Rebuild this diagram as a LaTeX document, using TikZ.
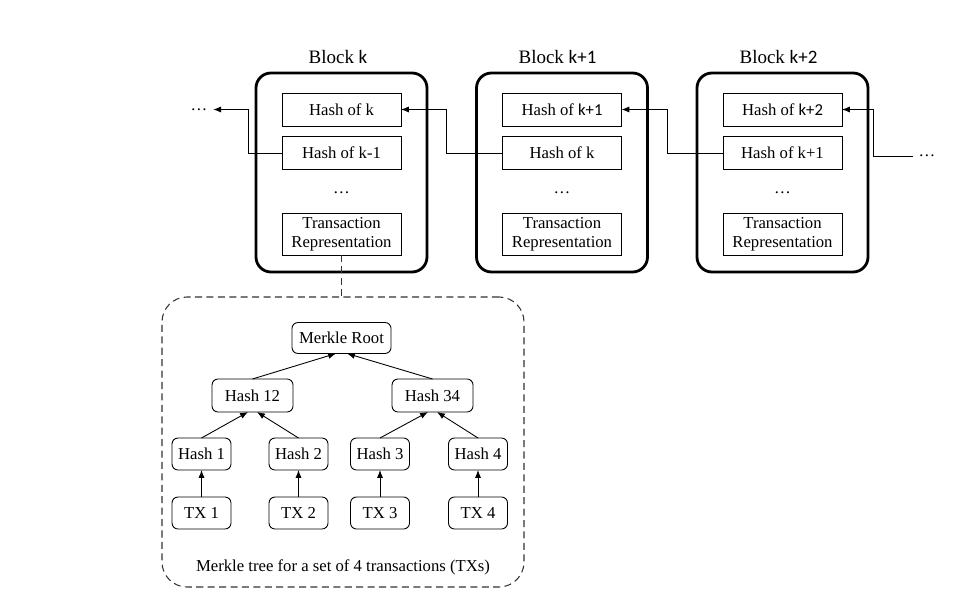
\documentclass[tikz,border=0pt]{standalone}
\usepackage{fontspec}
\setmainfont{Liberation Serif}
\newfontfamily\calfont{Carlito}
\usetikzlibrary{arrows.meta}

\begin{document}
\begin{tikzpicture}[every node/.style={font=\fontsize{9.5}{11}\selectfont, outer sep=0pt},
  block/.style={draw, line width=1.6pt, rounded corners=0.3cm, minimum width=3.42cm, minimum height=3.98cm},
  title/.style={font=\fontsize{10.8}{12}\selectfont},
  field/.style={draw, line width=0.5pt, minimum width=2.38cm, minimum height=0.66cm, inner sep=1pt},
  txfield/.style={field, minimum height=0.84cm, align=center},
  mnode/.style={draw, line width=0.5pt, rounded corners=0.12cm, minimum width=1.18cm, minimum height=0.64cm, inner sep=1pt},
  link/.style={-{Latex[length=4.5pt,width=3.5pt]}, line width=0.5pt},
  frameline/.style={draw=black!80, dash pattern=on 4pt off 2.5pt, line width=0.6pt}]
\useasboundingbox (0,0) rectangle (19.14,12.12);

\node[block] (b0) at (6.83,8.67) {};
\node[block] (b1) at (11.24,8.67) {};
\node[block] (b2) at (15.65,8.67) {};

\node[title] (n0) at (6.76,10.98) {Block {\calfont k}};
\node[title] (n1) at (11.15,10.98) {Block {\calfont k+1}};
\node[title] (n2) at (15.57,10.98) {Block {\calfont k+2}};

\node[field] (h0) at (6.83,9.93) {Hash of k};
\node[field] (p0) at (6.83,9.06) {Hash of k-1};
\node (d0) at (6.83,8.26) {\dots};
\node[txfield] (t0) at (6.83,7.44) {Transaction\\Representation};

\node[field] (h1) at (11.24,9.93) {Hash of {\calfont k+1}};
\node[field] (p1) at (11.24,9.06) {Hash of k};
\node (d1) at (11.24,8.26) {\dots};
\node[txfield] (t1) at (11.24,7.44) {Transaction\\Representation};

\node[field] (h2) at (15.65,9.93) {Hash of {\calfont k+2}};
\node[field] (p2) at (15.65,9.06) {Hash of k+1};
\node (d2) at (15.65,8.26) {\dots};
\node[txfield] (t2) at (15.65,7.44) {Transaction\\Representation};

\node (ldots) at (3.98,9.93) {\dots};
\node (rdots) at (18.54,9.0) {\dots};

\draw[link] (p0.west) -- ++(-0.68,0) |- (ldots.east);
\draw[link] (p1.west) -- ++(-1.12,0) |- (h0.east);
\draw[link] (p2.west) -- ++(-1.12,0) |- (h1.east);
\draw[link] (rdots.west) -- (17.46,9.0) |- (h2.east);

\node[frameline, rounded corners=0.5cm, minimum width=7.24cm, minimum height=5.8cm] (frame) at (6.86,3.28) {};
\draw[frameline] (t0.south) -- (t0.south |- frame.north);

\node[mnode, minimum width=1.98cm, minimum height=0.62cm] (root) at (6.83,5.36) {Merkle Root};
\node[mnode, minimum width=1.62cm, minimum height=0.66cm] (h12) at (5.05,4.21) {Hash 12};
\node[mnode, minimum width=1.62cm, minimum height=0.66cm] (h34) at (8.65,4.21) {Hash 34};
\node[mnode] (hs1) at (4.03,3.04) {Hash 1};
\node[mnode] (hs2) at (5.97,3.04) {Hash 2};
\node[mnode] (hs3) at (7.60,3.04) {Hash 3};
\node[mnode] (hs4) at (9.56,3.04) {Hash 4};
\node[mnode] (tx1) at (4.03,1.86) {TX 1};
\node[mnode] (tx2) at (5.97,1.86) {TX 2};
\node[mnode] (tx3) at (7.60,1.86) {TX 3};
\node[mnode] (tx4) at (9.56,1.86) {TX 4};
\node (cap) at (6.86,0.78) {Merkle tree for a set of 4 transactions (TXs)};

\draw[link] (h12.north) -- ([xshift=-0.11cm]root.south);
\draw[link] (h34.north) -- ([xshift=0.11cm]root.south);
\draw[link] (hs1.north) -- ([xshift=-0.09cm]h12.south);
\draw[link] (hs2.north) -- ([xshift=0.09cm]h12.south);
\draw[link] (hs3.north) -- ([xshift=-0.09cm]h34.south);
\draw[link] (hs4.north) -- ([xshift=0.09cm]h34.south);
\draw[link] (tx1) -- (hs1);
\draw[link] (tx2) -- (hs2);
\draw[link] (tx3) -- (hs3);
\draw[link] (tx4) -- (hs4);
\end{tikzpicture}
\end{document}
